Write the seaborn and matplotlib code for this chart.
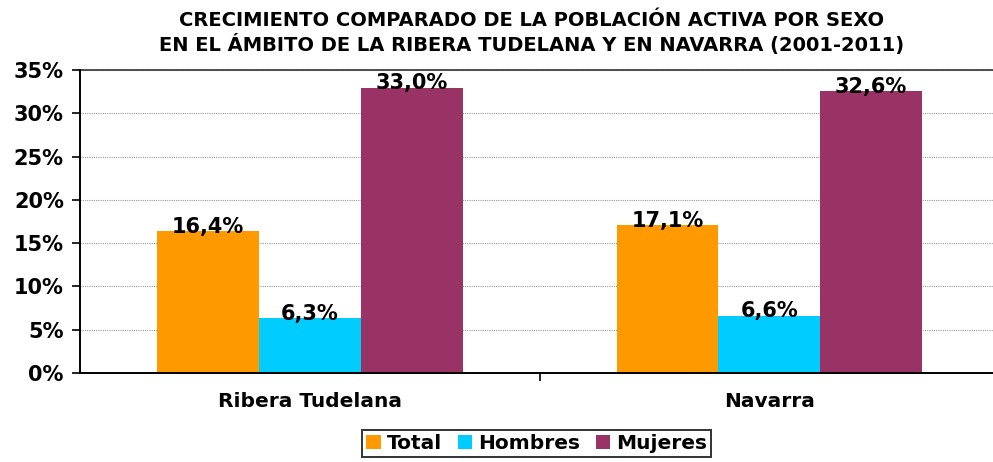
import numpy as np
import pandas as pd
import seaborn as sns
import matplotlib.pyplot as plt
from matplotlib.ticker import FixedLocator

# data
ambitos = ['Ribera Tudelana', 'Navarra']
sexos = ['Total', 'Hombres', 'Mujeres']
total = [16.4, 17.1]
hombres = [6.3, 6.6]
mujeres = [33.0, 32.6]
colores = ['#FF9900', '#00CCFF', '#993366']

df = pd.DataFrame({
    'Ambito': ambitos * 3,
    'Sexo': np.repeat(sexos, len(ambitos)),
    'Crecimiento': total + hombres + mujeres,
})

sns.set_style('white')
plt.rcParams['font.family'] = ['DejaVu Sans']
plt.rcParams['font.weight'] = 'bold'
plt.rcParams['text.color'] = 'black'
plt.rcParams['xtick.color'] = 'black'
plt.rcParams['ytick.color'] = 'black'

fig = plt.figure(figsize=(9.93, 4.62), dpi=100)
ax = fig.add_axes([0.081, 0.193, 0.925, 0.655])

sns.barplot(data=df, x='Ambito', y='Crecimiento', hue='Sexo', order=ambitos,
            hue_order=sexos, palette=colores, width=0.665, saturation=1,
            errorbar=None, linewidth=0, ax=ax)

for cont in ax.containers:
    ax.bar_label(cont, labels=[f'{v:.1f}%'.replace('.', ',') for v in cont.datavalues],
                 padding=-4, fontsize=15, fontweight='bold', color='black')

ax.set_ylim(0, 35)
ax.set_xlim(-0.5, 1.5)
ax.set_yticks(range(0, 36, 5))
ax.set_yticklabels([f'{t}%' for t in range(0, 36, 5)], fontsize=15, fontweight='bold')
ax.tick_params(axis='y', length=6, width=1.2, direction='out', left=True, pad=6)
ax.tick_params(axis='x', which='major', length=0, labelsize=14.5, pad=14)
ax.xaxis.set_minor_locator(FixedLocator([0.5]))
ax.tick_params(axis='x', which='minor', length=6, width=1.2, direction='out', bottom=True)
for lab in ax.get_xticklabels():
    lab.set_fontweight('bold')
ax.set_xlabel('')
ax.set_ylabel('')

ax.yaxis.grid(True, color='#999999', linestyle=(0, (1, 1)), linewidth=0.8)
ax.set_axisbelow(True)
ax.axhline(35, color='#333333', linewidth=1.2, clip_on=False)
for s in ['top', 'right']:
    ax.spines[s].set_visible(False)
for s in ['left', 'bottom']:
    ax.spines[s].set_color('black')
    ax.spines[s].set_linewidth(1.4)

fig.text(0.535, 0.929, 'CRECIMIENTO COMPARADO DE LA POBLACIÓN ACTIVA POR SEXO\n'
         'EN EL ÁMBITO DE LA RIBERA TUDELANA Y EN NAVARRA (2001-2011)',
         fontsize=14, fontweight='bold', ha='center', va='center', linespacing=1.25)

ax.legend(loc='upper center', bbox_to_anchor=(0.497, -0.155), ncol=3,
          frameon=True, fancybox=False, edgecolor='black', prop={'weight': 'bold', 'size': 14.5},
          handlelength=0.7, handleheight=0.7, handletextpad=0.3, columnspacing=0.8,
          borderpad=0.2)
ax.get_legend().get_frame().set_linewidth(1.4)

fig.savefig('out.png', dpi=100)
